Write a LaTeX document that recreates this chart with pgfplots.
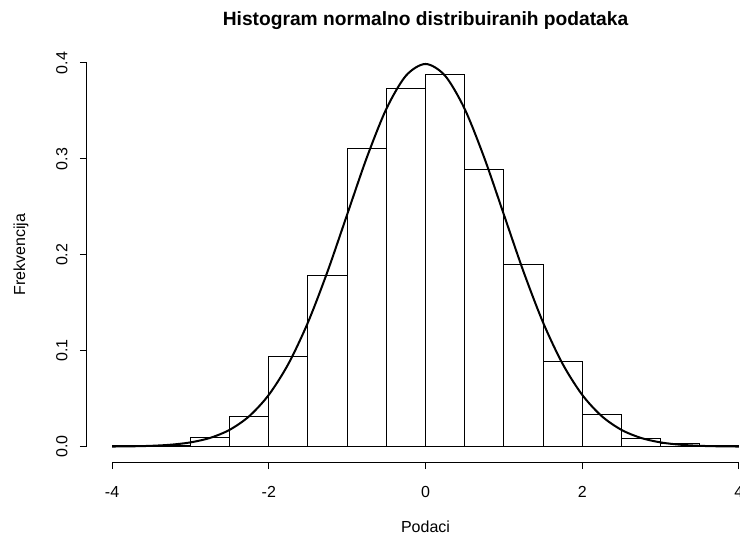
\documentclass[border=0pt]{standalone}
\usepackage{pgfplots}
\pgfplotsset{compat=1.18}
\usepackage{fontspec}
\setmainfont{Liberation Sans}
\begin{document}
\begin{tikzpicture}
\begin{axis}[
  at={(0,0)}, anchor=south west, scale only axis,
  width=507.75pt, height=310.8pt,
  xmin=-4.32, xmax=4.32, ymin=-0.016, ymax=0.416,
  axis x line*=bottom, axis y line*=left,
  axis line style={draw=none},
  clip=false,
  xtick={-4,-2,0,2,4}, ytick={0,0.1,0.2,0.3,0.4},
  tick align=outside, major tick length=5.4pt,
  tick style={black, line width=0.75pt},
  /pgf/number format/assume math mode=true,
  ticklabel style={font=\fontsize{12}{14}\selectfont},
  yticklabel style={rotate=90, anchor=center, yshift=13.4pt, /pgf/number format/.cd, fixed, fixed zerofill, precision=1},
  xticklabel style={anchor=center, yshift=-17pt},
]
\addplot[ybar interval, fill=white, draw=black, line width=0.75pt] coordinates {
(-4,0.001) (-3.5,0.001) (-3,0.010) (-2.5,0.031) (-2,0.094) (-1.5,0.178)
(-1,0.311) (-0.5,0.373) (0,0.388) (0.5,0.289) (1,0.190) (1.5,0.089)
(2,0.033) (2.5,0.009) (3,0.003) (3.5,0.001) (4,0.001)};
\addplot[smooth, black, line width=1.5pt, line join=round] coordinates {
(-4,0.00013) (-3.75,0.00035) (-3.5,0.00087) (-3.25,0.00203) (-3,0.00443)
(-2.75,0.00909) (-2.5,0.01753) (-2.25,0.03174) (-2,0.05399) (-1.75,0.08628)
(-1.5,0.12952) (-1.25,0.18265) (-1,0.24197) (-0.75,0.30114) (-0.5,0.35207)
(-0.25,0.38667) (0,0.39894) (0.25,0.38667) (0.5,0.35207) (0.75,0.30114)
(1,0.24197) (1.25,0.18265) (1.5,0.12952) (1.75,0.08628) (2,0.05399)
(2.25,0.03174) (2.5,0.01753) (2.75,0.00909) (3,0.00443) (3.25,0.00203)
(3.5,0.00087) (3.75,0.00035) (4,0.00013)};
\draw[line width=0.75pt] (axis cs:-4,-0.016) -- (axis cs:4,-0.016);
\draw[line width=0.75pt] (axis cs:-4.32,0) -- (axis cs:-4.32,0.4);
\end{axis}
\node[anchor=base, font=\bfseries\fontsize{14.4}{17}\selectfont] at (253.9pt,327pt) {Histogram normalno distribuiranih podataka};
\node[anchor=center, font=\fontsize{12}{14}\selectfont] at (253.9pt,-48.75pt) {Podaci};
\node[anchor=center, rotate=90, font=\fontsize{12}{14}\selectfont] at (-49.5pt,155.4pt) {Frekvencija};
\pgfresetboundingbox
\useasboundingbox (-65.25pt,-56.25pt) rectangle (489.75pt,346.5pt);
\end{tikzpicture}
\end{document}
